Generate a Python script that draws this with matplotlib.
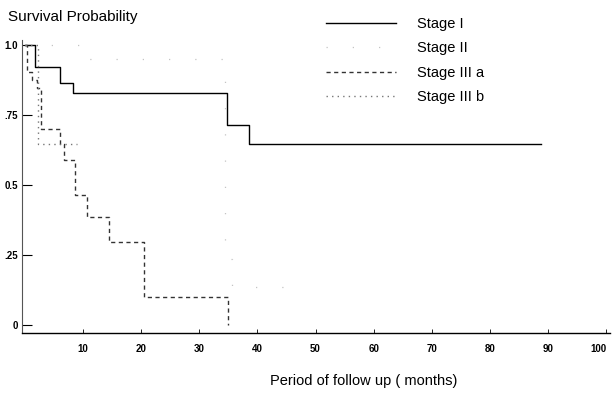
import matplotlib
matplotlib.use('Agg')
import matplotlib.pyplot as plt

plt.rcParams['font.family'] = ['Liberation Sans', 'DejaVu Sans']

# Kaplan-Meier steps (months, survival)
stage1_t = [0, 1.7, 6.0, 8.3, 34.8, 38.6, 88.8]
stage1_s = [1.0, 0.92, 0.865, 0.83, 0.715, 0.645, 0.645]

stage2_t = [0, 9.5, 34.5, 35.7, 47.0]
stage2_s = [1.0, 0.95, 0.236, 0.136, 0.136]

stage3a_t = [0, 0.35, 1.2, 2.1, 2.8, 6.0, 6.7, 8.6, 10.7, 14.5, 20.5, 35.0, 35.0]
stage3a_s = [1.0, 0.905, 0.875, 0.845, 0.70, 0.645, 0.59, 0.465, 0.385, 0.295, 0.10, 0.0, 0.0]

stage3b_t = [0, 2.2, 8.9]
stage3b_s = [1.0, 0.645, 0.645]

yticks = [0, 0.25, 0.5, 0.75, 1.0]
ytick_labels = ['0', '.25', '0.5', '.75', '1.0']
xticks = [10, 20, 30, 40, 50, 60, 70, 80, 90, 100]

fig = plt.figure(figsize=(6.12, 3.95), dpi=100)
ax = fig.add_axes([0.036, 0.157, 0.961, 0.743])

l1, = ax.step(stage1_t, stage1_s, where='post', color='black', lw=1.0)
l2, = ax.step(stage2_t, stage2_s, where='post', color='#c4c4c4', lw=0.9,
              linestyle=(0, (1, 20)))
l3, = ax.step(stage3a_t, stage3a_s, where='post', color='#333333', lw=1.0,
              linestyle=(0, (3, 2.5)))
l4, = ax.step(stage3b_t, stage3b_s, where='post', color='#777777', lw=1.0,
              linestyle=(0, (1, 3)))

ax.set_xlim(-0.5, 100.7)
ax.set_ylim(-0.03, 1.02)
ax.set_xticks(xticks)
ax.set_xticklabels([str(v) for v in xticks], fontsize=7, fontweight='bold')
ax.set_yticks(yticks)
ax.set_yticklabels(ytick_labels, fontsize=7, fontweight='bold')
ax.tick_params(axis='y', direction='in', length=7, width=0.8, pad=3)
ax.tick_params(axis='x', direction='in', length=3, width=0.6, pad=8)
for lab in ax.get_xticklabels()[-1:]:
    lab.set_horizontalalignment('right')

for side in ['top', 'right']:
    ax.spines[side].set_visible(False)
ax.spines['left'].set_color('#555555')
ax.spines['left'].set_linewidth(0.8)
ax.spines['bottom'].set_linewidth(1.0)

fig.text(0.013, 0.957, 'Survival Probability', fontsize=11, va='center', ha='left')
fig.text(0.595, 0.035, 'Period of follow up ( months)', fontsize=10.5, va='center', ha='center')

fig.legend([l1, l2, l3, l4], ['Stage I', 'Stage II', 'Stage III a', 'Stage III b'],
           loc='upper left', bbox_to_anchor=(0.52, 0.976), frameon=False,
           fontsize=10.5, handlelength=4.8, handletextpad=1.5, labelspacing=0.72,
           borderpad=0)

fig.savefig('out.png', dpi=100)
